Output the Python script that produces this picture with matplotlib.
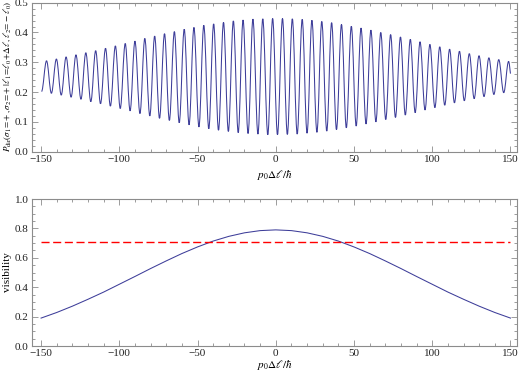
import matplotlib
matplotlib.use("Agg")
import matplotlib.pyplot as plt
from matplotlib.path import Path
from matplotlib.patches import PathPatch
from matplotlib.ticker import MultipleLocator, FormatStrFormatter

plt.rcParams["font.family"] = "Liberation Serif"
plt.rcParams["mathtext.fontset"] = "stix"

# top panel: maxima / minima of the fringe pattern
peak_x = [-146.5, -140.2, -134.0, -127.7, -121.4, -115.1, -108.8, -102.5, -96.2, -90.0,
          -83.7, -77.4, -71.1, -64.8, -58.5, -52.3, -46.0, -39.7, -33.4, -27.1,
          -20.9, -14.6, -8.3, -2.0, 4.3, 10.6, 16.9, 23.1, 29.4, 35.7,
          42.0, 48.3, 54.5, 60.8, 67.1, 73.4, 79.7, 86.0, 92.2, 98.5,
          104.8, 111.1, 117.4, 123.7, 129.9, 136.2, 142.5, 148.8]
peak_y = [0.305, 0.311, 0.318, 0.325, 0.332, 0.339, 0.347, 0.355, 0.363, 0.371,
          0.380, 0.388, 0.396, 0.403, 0.411, 0.417, 0.424, 0.429, 0.434, 0.439,
          0.442, 0.445, 0.446, 0.447, 0.447, 0.446, 0.444, 0.441, 0.437, 0.433,
          0.427, 0.421, 0.415, 0.408, 0.400, 0.393, 0.385, 0.377, 0.369, 0.360,
          0.352, 0.344, 0.337, 0.329, 0.322, 0.315, 0.309, 0.303]
trough_x = [-149.7, -143.4, -137.1, -130.8, -124.5, -118.2, -112.0, -105.7, -99.4, -93.1,
            -86.8, -80.5, -74.3, -68.0, -61.7, -55.4, -49.1, -42.8, -36.6, -30.3,
            -24.0, -17.7, -11.4, -5.1, 1.1, 7.4, 13.7, 20.0, 26.3, 32.6,
            38.8, 45.1, 51.4, 57.7, 64.0, 70.3, 76.5, 82.8, 89.1, 95.4,
            101.7, 108.0, 114.2, 120.5, 126.8, 133.1, 139.4, 145.7]
trough_y = [0.202, 0.196, 0.190, 0.183, 0.176, 0.168, 0.161, 0.153, 0.145, 0.137,
            0.128, 0.120, 0.112, 0.105, 0.097, 0.090, 0.083, 0.077, 0.072, 0.068,
            0.064, 0.061, 0.059, 0.057, 0.057, 0.058, 0.059, 0.062, 0.065, 0.069,
            0.074, 0.080, 0.086, 0.093, 0.100, 0.108, 0.115, 0.123, 0.131, 0.140,
            0.148, 0.156, 0.164, 0.171, 0.178, 0.185, 0.192, 0.198]
end_x, end_y = 150.0, 0.262

# bottom panel: visibility
vis_x = [-150, -140, -130, -120, -110, -100, -90, -80, -70, -60, -50, -40, -30, -20, -10,
         0, 10, 20, 30, 40, 50, 60, 70, 80, 90, 100, 110, 120, 130, 140, 150]
vis_y = [0.190, 0.228, 0.271, 0.318, 0.367, 0.420, 0.473, 0.527, 0.579, 0.629, 0.674,
         0.714, 0.746, 0.770, 0.785, 0.790, 0.785, 0.770, 0.746, 0.714, 0.674, 0.629,
         0.579, 0.527, 0.473, 0.420, 0.367, 0.318, 0.271, 0.228, 0.190]
threshold = 0.707

pts = sorted(zip(peak_x + trough_x, peak_y + trough_y))

# smooth the fringes: cubic segments with flat tangents at each extremum
verts = [pts[0]]
codes = [Path.MOVETO]
for (x0, y0), (x1, y1) in zip(pts[:-1], pts[1:]):
    dx = x1 - x0
    verts += [(x0 + 0.364 * dx, y0), (x1 - 0.364 * dx, y1), (x1, y1)]
    codes += [Path.CURVE4] * 3
# last partial fringe down to the end point
x0, y0 = pts[-1]
dx = end_x - x0
verts += [(x0 + 0.4 * dx, y0), (end_x - 0.3 * dx, end_y + 0.3 * (y0 - end_y)), (end_x, end_y)]
codes += [Path.CURVE4] * 3

blue = "#3d3d99"
frame_c = "#8c8c8c"
xlabel = r"$p_0\Delta\ell/\hbar$"

fig = plt.figure(figsize=(5.21, 3.75), dpi=100)
ax1 = fig.add_axes([0.0614, 0.5955, 0.931, 0.3973])
ax2 = fig.add_axes([0.0614, 0.0773, 0.931, 0.392])


def style(ax, ymaj, ymin):
    for s in ax.spines.values():
        s.set_color(frame_c)
        s.set_linewidth(0.8)
    ax.set_xlim(-155.8, 154.2)
    ax.xaxis.set_major_locator(MultipleLocator(50))
    ax.xaxis.set_minor_locator(MultipleLocator(10))
    ax.yaxis.set_major_locator(MultipleLocator(ymaj))
    ax.yaxis.set_minor_locator(MultipleLocator(ymin))
    ax.yaxis.set_major_formatter(FormatStrFormatter("%.1f"))
    ax.tick_params(which="both", direction="in", top=True, right=True,
                   color=frame_c, width=0.6, labelsize=8, labelcolor="#222222", pad=2.5)
    ax.tick_params(which="major", length=4)
    ax.tick_params(which="minor", length=2)


ax1.add_patch(PathPatch(Path(verts, codes), facecolor="none", edgecolor=blue, lw=0.75))
ax1.set_ylim(0, 0.5)
style(ax1, 0.1, 0.02)
ax1.set_xlabel(xlabel, fontsize=8, va="center")
ax1.xaxis.set_label_coords(0.5, -0.155)
ax1.set_ylabel(r"$P_{\rm dir}(\sigma_1\!=\!+,\sigma_2\!=\!+|\ell_1\!=\!\ell_0\!+\!\Delta\ell,\ell_2\!=\!-\ell_0)$",
               fontsize=6.5, va="center")
ax1.yaxis.set_label_coords(-0.049, 0.505)

ax2.plot(vis_x, vis_y, color=blue, lw=0.75)
ax2.plot([vis_x[0], vis_x[-1]], [threshold, threshold], color="red", lw=1.0,
         dashes=(5.8, 2.6))
ax2.set_ylim(0, 1.0)
style(ax2, 0.2, 0.05)
ax2.set_xlabel(xlabel, fontsize=8, va="center")
ax2.xaxis.set_label_coords(0.5, -0.13)
ax2.set_ylabel("visibility", fontsize=8, va="center")
ax2.yaxis.set_label_coords(-0.05, 0.5)

fig.savefig("out.png", dpi=100)
